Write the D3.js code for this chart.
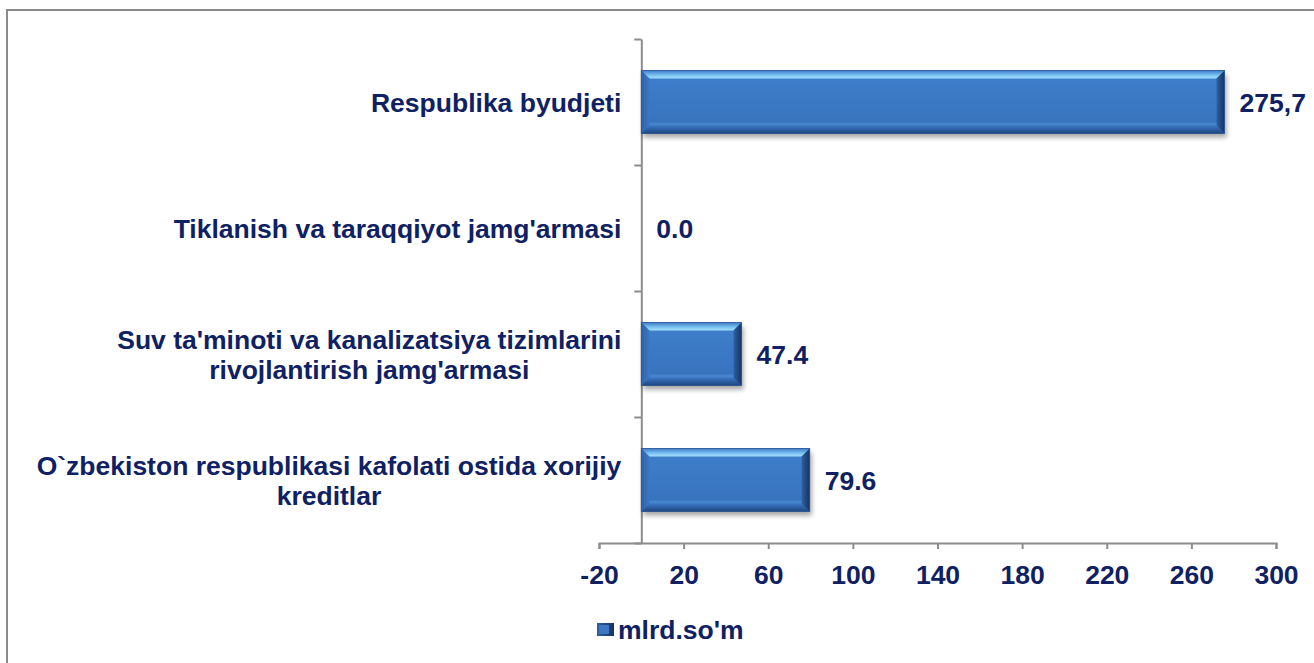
<!DOCTYPE html>
<html>
<head>
<meta charset="utf-8">
<script src="https://cdn.jsdelivr.net/npm/d3@7"></script>
<style>
  html, body { margin: 0; padding: 0; background: #ffffff; }
  svg { display: block; }
  text { font-family: "Liberation Sans", Arial, sans-serif; font-weight: bold; fill: #0f2163; }
</style>
</head>
<body>
<svg id="chart" width="1314" height="663"></svg>
<script>
// ---- data ----
const categories = [
  "Respublika byudjeti",
  "Tiklanish va taraqqiyot jamg'armasi",
  "Suv ta'minoti va kanalizatsiya tizimlarini\nrivojlantirish jamg'armasi",
  "O`zbekiston respublikasi kafolati ostida xorijiy\nkreditlar"
];
const values = [275.7, 0.0, 47.4, 79.6];
const valueLabels = ["275,7", "0.0", "47.4", "79.6"];
const xTicks = [-20, 20, 60, 100, 140, 180, 220, 260, 300];
const seriesName = "mlrd.so'm";

// ---- layout ----
const W = 1314, H = 663;
const plot = { left: 599, right: 1276, top: 39, bottom: 543 };
const FONT = 26.5;
const axisColor = "#8c8c8c";

const svg = d3.select("#chart");
const defs = svg.append("defs");

// gradients
const gMain = defs.append("linearGradient").attr("id", "gMain").attr("x1", 0).attr("y1", 0).attr("x2", 0).attr("y2", 1);
[[0, "#3f7fcc"], [0.5, "#3b78c3"], [1, "#3670bb"]].forEach(s => gMain.append("stop").attr("offset", s[0]).attr("stop-color", s[1]));
const gTop = defs.append("linearGradient").attr("id", "gTop").attr("x1", 0).attr("y1", 0).attr("x2", 0).attr("y2", 1);
[[0, "#3d7bc8"], [0.6, "#7cc3f2"], [1, "#a6e0fb"]].forEach(s => gTop.append("stop").attr("offset", s[0]).attr("stop-color", s[1]));
const gBot = defs.append("linearGradient").attr("id", "gBot").attr("x1", 0).attr("y1", 0).attr("x2", 0).attr("y2", 1);
[[0, "#3c78c2"], [0.5, "#2c5ea3"], [1, "#1f467f"]].forEach(s => gBot.append("stop").attr("offset", s[0]).attr("stop-color", s[1]));
const gRight = defs.append("linearGradient").attr("id", "gRight").attr("x1", 0).attr("y1", 0).attr("x2", 1).attr("y2", 0);
[[0, "#2d5fa3"], [1, "#17335f"]].forEach(s => gRight.append("stop").attr("offset", s[0]).attr("stop-color", s[1]));
const gLeft = defs.append("linearGradient").attr("id", "gLeft").attr("x1", 0).attr("y1", 0).attr("x2", 1).attr("y2", 0);
[[0, "#2f63a8"], [1, "#3b78c3"]].forEach(s => gLeft.append("stop").attr("offset", s[0]).attr("stop-color", s[1]));
const shadow = defs.append("filter").attr("id", "shadow").attr("x", "-10%").attr("y", "-30%").attr("width", "130%").attr("height", "180%");
shadow.append("feGaussianBlur").attr("stdDeviation", 2.5);

// chart border
svg.append("rect")
  .attr("x", 7).attr("y", 10).attr("width", W + 20).attr("height", H + 20)
  .attr("fill", "none").attr("stroke", "#8a8a8a").attr("stroke-width", 2);

// scales
const x = d3.scaleLinear().domain([xTicks[0], xTicks[xTicks.length - 1]]).range([plot.left, plot.right]);
const y = d3.scaleBand().domain(categories).range([plot.top, plot.bottom]).paddingInner(0.5).paddingOuter(0.25);
const yEdges = d3.scaleLinear().domain([0, categories.length]).range([plot.top, plot.bottom]);

// x axis
const xAxis = svg.append("g").attr("transform", `translate(0,${plot.bottom})`)
  .call(d3.axisBottom(x).tickValues(xTicks).tickSizeInner(6).tickSizeOuter(6).tickPadding(16).tickFormat(d => String(d)));
xAxis.select(".domain").attr("stroke", axisColor).attr("stroke-width", 2);
xAxis.selectAll(".tick line").attr("stroke", axisColor).attr("stroke-width", 2);
xAxis.selectAll(".tick text").attr("font-size", FONT).attr("font-family", null).attr("fill", null).attr("dy", "0.71em");

// y axis (category axis at x = 0)
const yAxis = svg.append("g").attr("transform", `translate(${x(0)},0)`)
  .call(d3.axisLeft(yEdges).tickValues(d3.range(0, categories.length + 1)).tickSizeInner(7).tickSizeOuter(0).tickFormat(""));
yAxis.select(".domain").attr("stroke", axisColor).attr("stroke-width", 2);
yAxis.selectAll(".tick line").attr("stroke", axisColor).attr("stroke-width", 2);

// bars
function bevelBar(g, x0, x1, y0, y1) {
  const w = x1 - x0, h = y1 - y0;
  if (w <= 0) return;
  const b = Math.min(8, w / 3, h / 4);
  g.append("rect").attr("x", x0 + 2).attr("y", y0 + 4).attr("width", w).attr("height", h)
    .attr("fill", "#000").attr("opacity", 0.35).attr("filter", "url(#shadow)");
  g.append("rect").attr("x", x0).attr("y", y0).attr("width", w).attr("height", h).attr("fill", "url(#gMain)");
  const poly = (pts, fill) => g.append("polygon").attr("points", pts.map(p => p.join(",")).join(" ")).attr("fill", fill);
  poly([[x0, y0], [x1, y0], [x1 - b, y0 + b], [x0 + b, y0 + b]], "url(#gTop)");
  poly([[x0, y1], [x1, y1], [x1 - b, y1 - b], [x0 + b, y1 - b]], "url(#gBot)");
  poly([[x0, y0], [x0 + b, y0 + b], [x0 + b, y1 - b], [x0, y1]], "url(#gLeft)");
  poly([[x1, y0], [x1 - b, y0 + b], [x1 - b, y1 - b], [x1, y1]], "url(#gRight)");
  g.append("rect").attr("x", x0 + b).attr("y", y1 - b - 3).attr("width", Math.max(0, w - 2 * b)).attr("height", 3)
    .attr("fill", "#4f8fd6").attr("opacity", 0.6);
  g.append("rect").attr("x", x0).attr("y", y0).attr("width", w).attr("height", h)
    .attr("fill", "none").attr("stroke", "#2a5592").attr("stroke-width", 0.8);
}

const barsG = svg.append("g");
categories.forEach((c, i) => {
  const g = barsG.append("g");
  bevelBar(g, x(0), x(values[i]), y(c), y(c) + y.bandwidth());
});

// value labels
svg.append("g").selectAll("text").data(categories).join("text")
  .attr("x", (c, i) => x(values[i]) + 15)
  .attr("y", c => y(c) + y.bandwidth() / 2)
  .attr("dy", "0.36em")
  .attr("font-size", FONT)
  .text((c, i) => valueLabels[i]);

// category labels (multi-line, lines centred within a right-aligned block)
const labelRight = x(0) - 20;
const lineH = 30;
const catG = svg.append("g");
categories.forEach(c => {
  const lines = c.split("\n");
  const t = catG.append("text").attr("font-size", FONT).attr("text-anchor", "middle");
  const spans = lines.map((ln, j) => t.append("tspan")
    .attr("y", y(c) + y.bandwidth() / 2 + (j - (lines.length - 1) / 2) * lineH)
    .attr("dy", "0.36em").text(ln));
  const maxW = d3.max(spans, s => s.node().getComputedTextLength());
  spans.forEach(s => s.attr("x", labelRight - maxW / 2));
});

// legend
const lg = svg.append("g");
lg.append("rect").attr("x", 597).attr("y", 623).attr("width", 17).attr("height", 13).attr("fill", "url(#gRight)");
lg.append("rect").attr("x", 599).attr("y", 625).attr("width", 10).attr("height", 9).attr("fill", "#3b78c3");
lg.append("text").attr("x", 618).attr("y", 629).attr("dy", "0.36em").attr("font-size", FONT).text(seriesName);
</script>
</body>
</html>
